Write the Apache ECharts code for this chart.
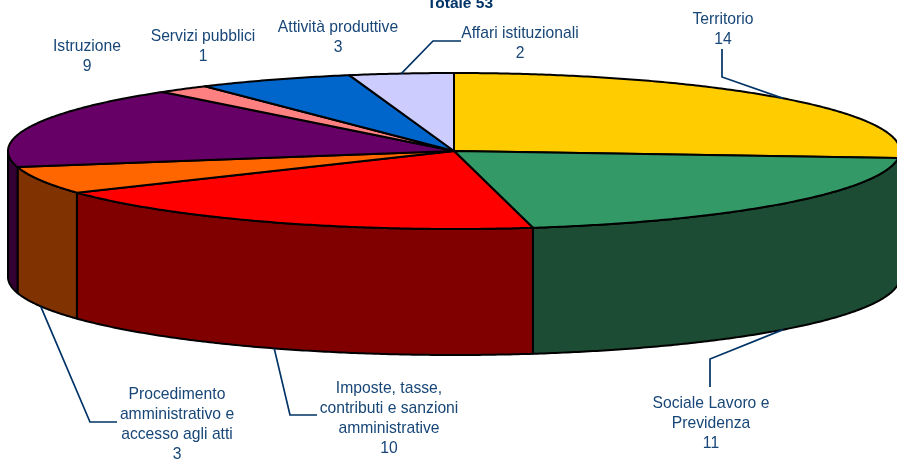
<!DOCTYPE html>
<html>
<head>
<meta charset="utf-8">
<script src="https://cdn.jsdelivr.net/npm/echarts@6/dist/echarts.min.js"></script>
<style>
    html, body {margin: 0; padding: 0; background: #fff;}
    #main {width: 897px; height: 463px;}
</style>
</head>
<body>
<div id="main"></div>
<script>
// dati del grafico, in senso orario da ore 12
var aCategories = ['Territorio', 'Sociale Lavoro e\nPrevidenza', 'Imposte, tasse,\ncontributi e sanzioni\namministrative',
    'Procedimento\namministrativo e\naccesso agli atti', 'Istruzione', 'Servizi pubblici', 'Attività produttive', 'Affari istituzionali'];
var aValues = [14, 11, 10, 3, 9, 1, 3, 2];
var sTitle = 'Totale 53';

var aTopColors = ['#FFCC00', '#339966', '#FF0000', '#FF6600', '#660066', '#FF8080', '#0066CC', '#CCCCFF'];
var aSideColors = ['#806600', '#1C4C33', '#800000', '#803300', '#330033', '#804040', '#003366', '#666680'];

// geometria della torta, pixel
var iCx = 454, iCy = 151, iRx = 446, iRy = 78, iDepth = 126;

// posizione delle etichette [centro x, y prima riga] e gomito della linea guida
var aLabelPos = [[723, 18], [711, 402], [389, 387], [177, 393], [87, 45], [203, 35], [338, 26], [520, 32]];
var aLeaders = [
    [[722, 49], [722, 77]],
    [[710, 387], [710, 359]],
    [[317, 415], [290, 415]],
    [[117, 422], [90, 422]],
    null,
    null,
    null,
    [[461, 41], [433, 41]]
];

var iTotal = 0;
var aStart = [];
for (var i = 0; i < aValues.length; i++) {
    aStart.push(iTotal);
    iTotal += aValues[i];
}

// angolo in gradi da ore 12, parametro dell'ellisse
function GetPoint(fDeg, iDrop) {
    var fRad = fDeg * Math.PI / 180;
    return [iCx + iRx * Math.sin(fRad), iCy - iRy * Math.cos(fRad) + iDrop];
}

function GetArc(fFrom, fTo, iDrop) {
    var aPoints = [];
    var iSteps = Math.max(1, Math.ceil((fTo - fFrom) / 0.5));
    for (var k = 0; k <= iSteps; k++) {
        aPoints.push(GetPoint(fFrom + (fTo - fFrom) * k / iSteps, iDrop));
    }
    return aPoints;
}

function RenderSlice(params, api) {
    var iIdx = params.dataIndex;
    var fFrom = aStart[iIdx] / iTotal * 360;
    var fTo = fFrom + api.value(0) / iTotal * 360;
    var aChildren = [];

    // la parete si vede solo nella meta' anteriore
    var fSideFrom = Math.max(fFrom, 90);
    var fSideTo = Math.min(fTo, 270);
    if (fSideTo > fSideFrom) {
        var aSide = GetArc(fSideFrom, fSideTo, 0).concat(GetArc(fSideFrom, fSideTo, iDepth).reverse());
        aChildren.push({
            type: 'polygon',
            shape: {points: aSide},
            style: {fill: aSideColors[iIdx], stroke: '#000', lineWidth: 2, lineJoin: 'round'}
        });
    }
    aChildren.push({
        type: 'polygon',
        shape: {points: [[iCx, iCy]].concat(GetArc(fFrom, fTo, 0))},
        style: {fill: aTopColors[iIdx], stroke: '#000', lineWidth: 2, lineJoin: 'round'}
    });
    return {type: 'group', children: aChildren};
}

function RenderLabel(params, api) {
    var iIdx = params.dataIndex;
    var aChildren = [];
    var aElbow = aLeaders[iIdx];
    if (aElbow) {
        var fMid = (aStart[iIdx] + api.value(0) / 2) / iTotal * 360;
        var bFront = fMid > 90 && fMid < 270;
        aChildren.push({
            type: 'polyline',
            shape: {points: aElbow.concat([GetPoint(fMid, bFront ? iDepth : 0)])},
            style: {fill: 'none', stroke: '#003366', lineWidth: 1.7}
        });
    }
    aChildren.push({
        type: 'text',
        x: aLabelPos[iIdx][0],
        y: aLabelPos[iIdx][1] - 8,
        style: {
            text: aCategories[iIdx] + '\n' + api.value(0),
            fill: '#174677',
            font: '15.7px "Liberation Sans", Arial, sans-serif',
            lineHeight: 20,
            align: 'center',
            verticalAlign: 'top'
        }
    });
    return {type: 'group', children: aChildren};
}

function GetOption() {
    var aData = [];
    for (var i = 0; i < aValues.length; i++) {
        aData.push({name: aCategories[i], value: [aValues[i]]});
    }
    return {
        animation: false,
        title: {
            text: sTitle,
            left: 455,
            top: -9,
            textAlign: 'center',
            textStyle: {color: '#003366', fontFamily: '"Liberation Sans", Arial, sans-serif', fontSize: 15.5, fontWeight: 'bold'}
        },
        series: [
            {type: 'custom', coordinateSystem: 'none', silent: true, renderItem: RenderSlice, data: aData},
            {type: 'custom', coordinateSystem: 'none', silent: true, renderItem: RenderLabel, data: aData, z: 3}
        ]
    };
}

var myChart = echarts.init(document.getElementById('main'));
myChart.setOption(GetOption());
</script>
</body>
</html>
